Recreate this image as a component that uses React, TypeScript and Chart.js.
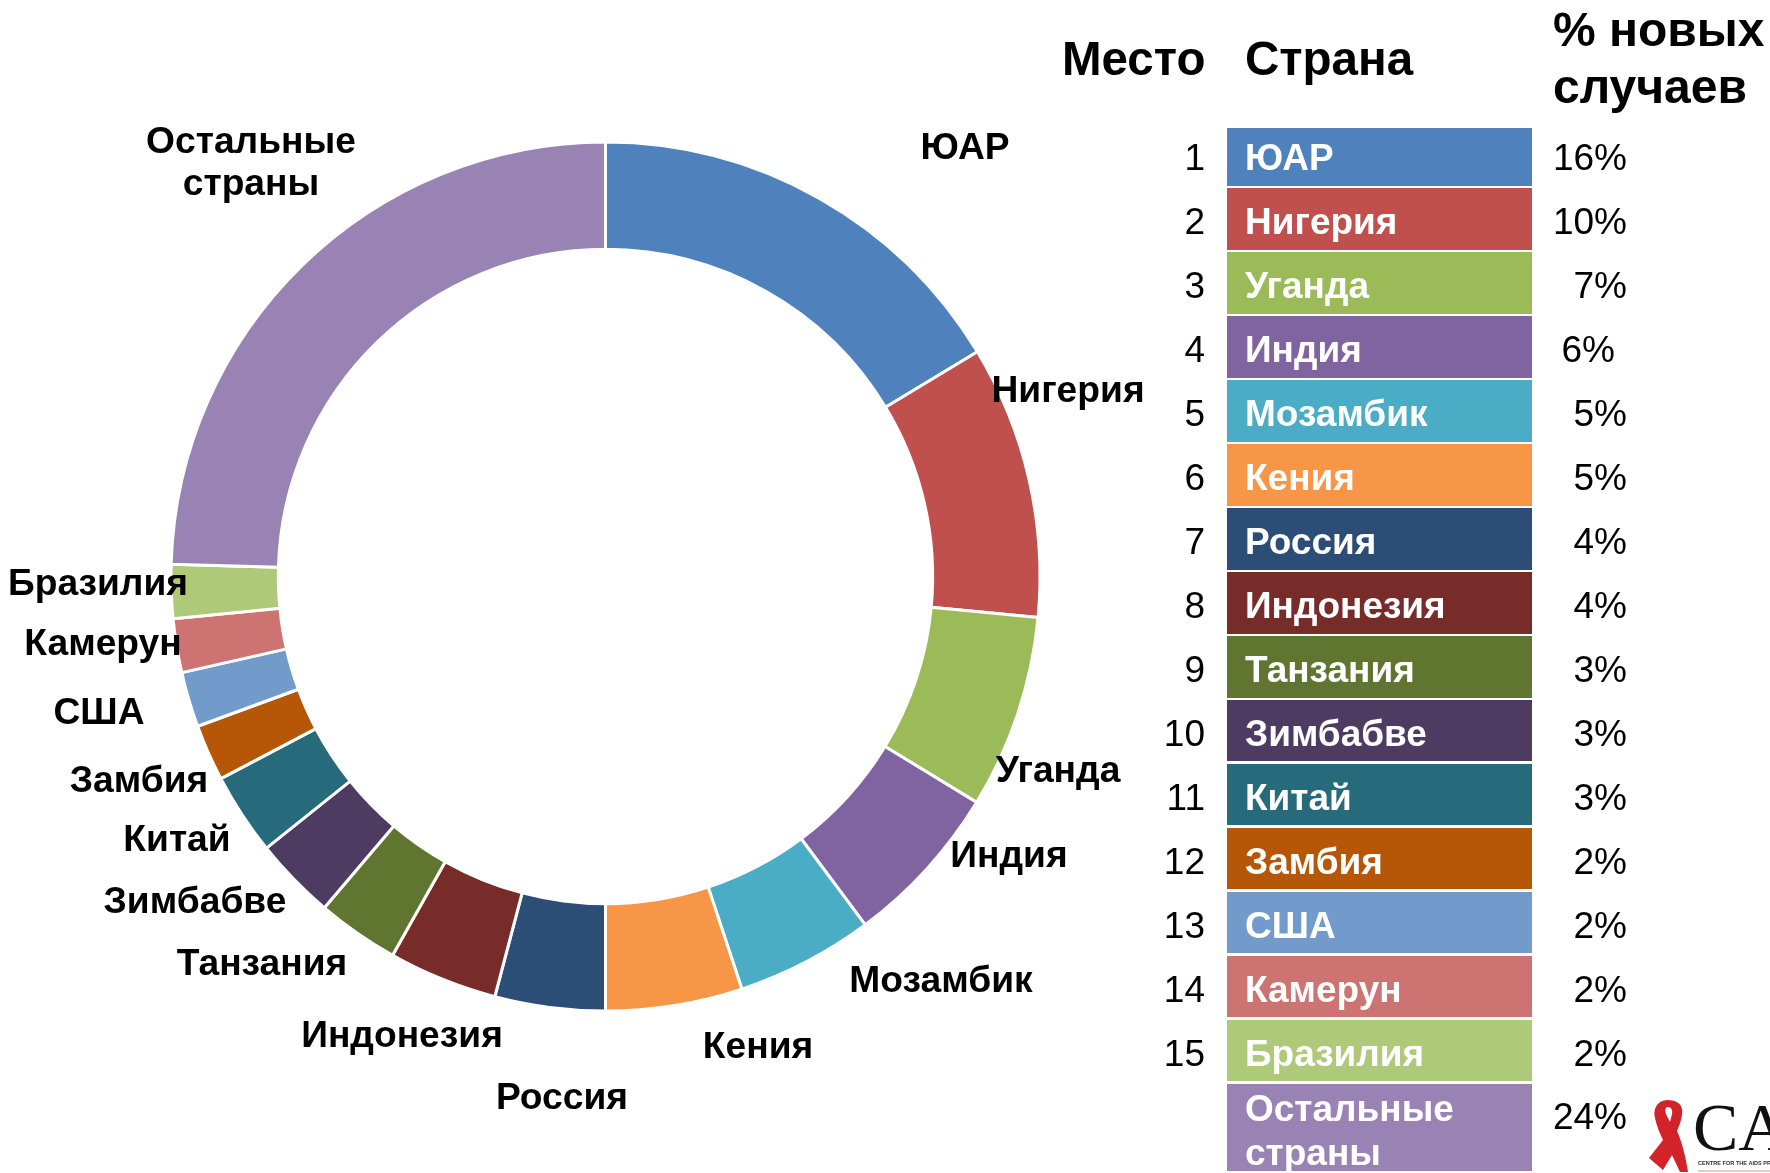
import React, { useEffect, useRef } from "react";
import { Chart, registerables } from "chart.js";

Chart.register(...registerables);

const countries = ["ЮАР","Нигерия","Уганда","Индия","Мозамбик","Кения","Россия","Индонезия","Танзания","Зимбабве","Китай","Замбия","США","Камерун","Бразилия","Остальные страны"];
const shares = [16.35,10.15,7.2,6.1,5.12,5.08,4.1,4.05,3.05,3.05,3.05,2.1,2.05,2,2,24.55];
const percentLabels = ["16%","10%","7%","6%","5%","5%","4%","4%","3%","3%","3%","2%","2%","2%","2%","24%"];
const colors = ["#4F81BD","#C0504D","#9BBB59","#8064A2","#4BACC6","#F79646","#2C4D75","#772C2A","#5F7530","#4D3B62","#276A7C","#B65708","#729ACA","#CD7371","#AFC97A","#9983B5"];
const sliceLabelCentres: [number, number][] = [[965,149],[1068,392],[1058,772],[1009,857],[941,982],[758,1048],[562,1099],[402,1037],[262,965],[195,903],[177,841],[139,782],[99,714],[103,645],[98,585],[251,162]];

const FONT = '"Liberation Sans", Arial, sans-serif';
const abs = (l: number, t: number, extra: any = {}): any => ({ position: "absolute", left: l, top: t, whiteSpace: "nowrap", fontFamily: FONT, color: "#000", ...extra });

const labelPlugin = {
  id: "sliceLabels",
  afterDraw(chart: any) {
    const c = chart.ctx;
    c.save();
    c.font = `bold 37.2px ${FONT}`;
    c.fillStyle = "#000";
    c.textAlign = "center";
    c.textBaseline = "middle";
    countries.forEach((name, i) => {
      const [x, y] = sliceLabelCentres[i];
      if (i === 15) {
        c.fillText("Остальные", x, y - 19);
        c.fillText("страны", x, y + 23);
      } else c.fillText(name, x, y);
    });
    c.restore();
  },
};

export default function App() {
  const ref = useRef<HTMLCanvasElement>(null);
  useEffect(() => {
    const chart = new Chart(ref.current!, {
      type: "doughnut",
      data: { labels: countries, datasets: [{ data: shares, backgroundColor: colors, borderColor: "#fff", borderWidth: 3 }] },
      options: {
        responsive: false,
        animation: false,
        radius: 434.5,
        cutout: "75.3%",
        layout: { padding: { left: 0, top: 0, right: 559, bottom: 20 } },
        plugins: { legend: { display: false }, tooltip: { enabled: false } },
      } as any,
      plugins: [labelPlugin],
    });
    return () => chart.destroy();
  }, []);

  const textTop = (i: number) => 127 + i * 64;
  const rectTop = (i: number) => (i === 0 ? 127.5 : 124.5 + i * 63.94);
  const rectHeight = (i: number) => (i === 0 ? 58.5 : i === 15 ? 87 : 61.5);
  return (
    <div style={{ position: "absolute", left: 0, top: 0, width: 1770, height: 1173, overflow: "hidden", background: "#fff" }}>
      <canvas ref={ref} width={1770} height={1173} style={{ position: "absolute", left: 0, top: 0 }} />
      <div style={abs(1062, 31, { fontSize: 47.5, fontWeight: 700 })}>Место</div>
      <div style={abs(1245, 31, { fontSize: 47.5, fontWeight: 700 })}>Страна</div>
      <div style={abs(1553, 1, { fontSize: 48, fontWeight: 700, lineHeight: "57px" })}>% новых<br />случаев</div>
      {countries.map((name, i) => {
        const last = i === 15;
        const h = 61;
        return (
          <React.Fragment key={name}>
            {!last && <div style={abs(1105, textTop(i), { width: 100, textAlign: "right", fontSize: 37, lineHeight: h + "px" })}>{i + 1}</div>}
            <div style={abs(1227, rectTop(i), { width: 305, height: rectHeight(i), background: colors[i] })} />
            <div style={abs(1245, textTop(i), { color: "#fff", fontSize: 37, fontWeight: 700, lineHeight: last ? "44px" : h + "px", whiteSpace: "normal", width: 280 })}>{name}</div>
            <div style={abs(1527, textTop(i) - (last ? 1 : 0), { width: i === 3 ? 88 : 100, textAlign: "right", fontSize: 37, lineHeight: last ? "62px" : h + "px" })}>{percentLabels[i]}</div>
          </React.Fragment>
        );
      })}
      <svg width={121} height={73} viewBox="1649 1100 121 73" style={{ position: "absolute", left: 1649, top: 1100 }}>
        <path d="M1667 1100 C1656 1101 1653 1110 1655 1118 C1657 1127 1660 1134 1663 1140 L1649 1158 L1663 1170 L1672 1155 L1680 1172 L1688 1172 C1686 1158 1682 1142 1677 1131 C1681 1122 1683 1114 1682 1109 C1681 1103 1675 1100 1667 1100 Z M1668 1107 C1671 1107 1673 1110 1672 1114 L1670 1122 L1666 1114 C1665 1110 1665 1107 1668 1107 Z" fill="#D2232A" fillRule="evenodd" />
        <text x={1693} y={1150} fontFamily='"Liberation Serif", serif' fontSize={68} fill="#111">CAP</text>
        <text x={1698} y={1165} fontFamily={FONT} fontSize={5.6} fontWeight={700} fill="#333">CENTRE FOR THE AIDS PROGRAMME</text>
        <line x1={1698} x2={1770} y1={1171} y2={1171} stroke="#c98" strokeWidth={1} />
      </svg>
    </div>
  );
}
